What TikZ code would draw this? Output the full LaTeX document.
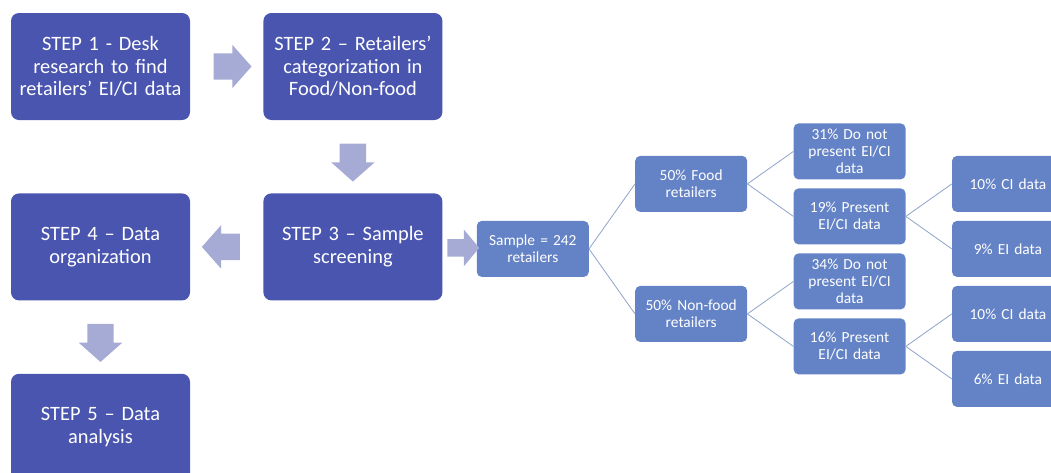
\documentclass[tikz,border=0pt]{standalone}
\usepackage{fontspec}
\setmainfont{Carlito}
\usetikzlibrary{positioning,shapes.arrows,calc}
\definecolor{stepblue}{HTML}{4A55B0}
\definecolor{arrowlilac}{HTML}{A6ABD6}
\definecolor{treeblue}{HTML}{6483C6}
\definecolor{linkgray}{HTML}{8FA3C9}
\tikzset{node distance=73pt, % gap between the step boxes
stepbox/.style={rectangle, rounded corners=8pt, fill=stepblue, text=white, minimum width=179pt, minimum height=107pt, text width=175pt, align=center, inner sep=0pt, font=\fontsize{20.4}{22.6}\selectfont}, % the five steps
treebox/.style={rectangle, rounded corners=5pt, fill=treeblue, text=white, minimum width=112pt, minimum height=56pt, text width=110pt, align=center, inner sep=0pt, font=\fontsize{15.4}{16.7}\selectfont}, % boxes of the sample tree
blockarrow/.style={single arrow, fill=arrowlilac, inner xsep=0pt, inner ysep=13pt, minimum height=38pt, single arrow head extend=8.5pt, single arrow tip angle=97}, % fat arrows between steps
downarrow/.style={blockarrow, shape border rotate=270, inner xsep=13pt, inner ysep=0pt},
link/.style={draw=linkgray, line width=0.8pt}, % thin lines of the tree
}
\begin{document}
\begin{tikzpicture}[x=1pt, y=-1pt]
\useasboundingbox (0,0) rectangle (1051,472);
\clip (0,0) rectangle (1051,472);
% steps
\node[stepbox] (step1) at (100.5,66.5) {STEP 1 - Desk\\research to find\\retailers’ EI/CI data};
\node[stepbox, right=of step1] (step2) {STEP 2 – Retailers’\\categorization in\\Food/Non-food};
\node[stepbox, below=of step2] (step3) {STEP 3 – Sample\\screening};
\node[stepbox, left=of step3] (step4) {STEP 4 – Data\\organization};
\node[stepbox, below=of step4] (step5) {STEP 5 – Data\\analysis};
\node[blockarrow] (a12) at ($(step1.east)!0.5!(step2.west)$) {};
\node[downarrow] (a23) at ($(step2.south)!0.5!(step3.north)$) {};
\node[blockarrow, shape border rotate=180] (a34) at ($(step3.west)!0.5!(step4.east)$) {};
\node[downarrow] (a45) at ($(step4.south)!0.5!(step5.north)$) {};
% sample tree
\node[treebox, right=34pt of step3, yshift=-2pt] (sample) {Sample = 242\\retailers};
\node[blockarrow, minimum height=32pt, inner ysep=8.5pt, single arrow head extend=9.5pt, single arrow tip angle=100] (a3s) at ($(step3.east)!0.5!(sample.west)$) {};
\node[treebox, right=46pt of sample, yshift=65pt] (food) {50\% Food\\retailers};
\node[treebox, right=46pt of sample, yshift=-65pt] (nonfood) {50\% Non-food\\retailers};
\node[treebox, right=46pt of food, yshift=32.5pt] (foodno) {31\% Do not\\present EI/CI\\data};
\node[treebox, right=46pt of food, yshift=-32.5pt] (foodyes) {19\% Present\\EI/CI data};
\node[treebox, right=46pt of nonfood, yshift=32.5pt] (nonfoodno) {34\% Do not\\present EI/CI\\data};
\node[treebox, right=46pt of nonfood, yshift=-32.5pt] (nonfoodyes) {16\% Present\\EI/CI data};
\node[treebox, right=46pt of foodyes, yshift=32.5pt] (foodci) {10\% CI data};
\node[treebox, right=46pt of foodyes, yshift=-32.5pt] (foodei) {9\% EI data};
\node[treebox, right=46pt of nonfoodyes, yshift=32.5pt] (nonfoodci) {10\% CI data};
\node[treebox, right=46pt of nonfoodyes, yshift=-32.5pt] (nonfoodei) {6\% EI data};
\draw[link] (sample.east) -- (food.west);
\draw[link] (sample.east) -- (nonfood.west);
\draw[link] (food.east) -- (foodno.west);
\draw[link] (food.east) -- (foodyes.west);
\draw[link] (nonfood.east) -- (nonfoodno.west);
\draw[link] (nonfood.east) -- (nonfoodyes.west);
\draw[link] (foodyes.east) -- (foodci.west);
\draw[link] (foodyes.east) -- (foodei.west);
\draw[link] (nonfoodyes.east) -- (nonfoodci.west);
\draw[link] (nonfoodyes.east) -- (nonfoodei.west);
\end{tikzpicture}
\end{document}
